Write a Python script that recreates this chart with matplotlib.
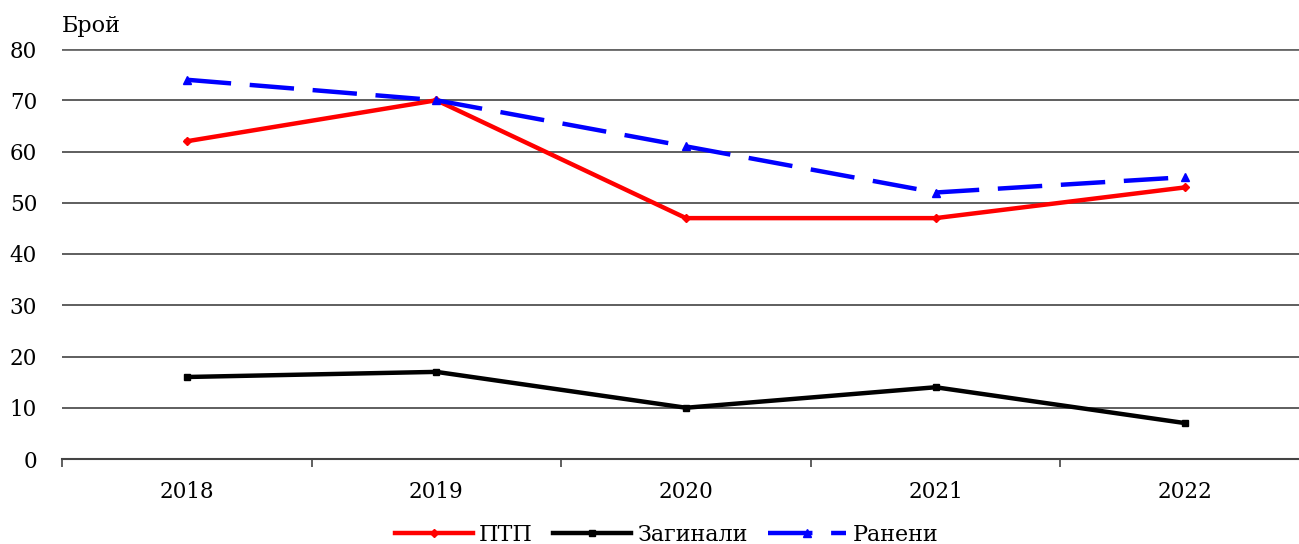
import matplotlib
matplotlib.use("Agg")
import matplotlib.pyplot as plt

years = ["2018", "2019", "2020", "2021", "2022"]
ptp = [62, 70, 47, 47, 53]
zaginali = [16, 17, 10, 14, 7]
raneni = [74, 70, 61, 52, 55]
yticks = [0, 10, 20, 30, 40, 50, 60, 70, 80]

plt.rcParams['font.family'] = ['DejaVu Serif']

fig = plt.figure(figsize=(12.99, 5.44), dpi=100)
ax = fig.add_axes([62/1299, 85/544, 1248/1299, 410/544])

x = list(range(len(years)))
ax.plot(x, ptp, color='#ff0000', lw=3.2, marker='D', ms=4, label='ПТП', zorder=3)
ax.plot(x, zaginali, color='black', lw=3.2, marker='s', ms=5, label='Загинали', zorder=3)
ax.plot(x, raneni, color='#0000ff', lw=3.2, ls=(0, (10, 4.2)), marker='^', ms=6, label='Ранени', zorder=3)

ax.set_xlim(-0.5, 4.5)
ax.set_ylim(0, 80)
ax.set_yticks(yticks)
ax.set_yticklabels([str(v) for v in yticks], fontsize=15.5)
ax.yaxis.grid(True, color='#333333', lw=1.1)
ax.set_axisbelow(True)
ax.get_ygridlines()[-1].set_linewidth(2.0)
ax.get_ygridlines()[-1].set_color('#666666')

ax.set_xticks(x)
ax.set_xticklabels(years, fontsize=15.5)
ax.tick_params(axis='x', which='major', length=0, pad=16)
ax.set_xticks([-0.5, 0.5, 1.5, 2.5, 3.5, 4.5], minor=True)
ax.tick_params(axis='x', which='minor', length=6, width=1.2, color='#444444', direction='out')
ax.tick_params(axis='y', length=0, pad=18)

for s in ['left', 'right', 'top']:
    ax.spines[s].set_visible(False)
ax.spines['bottom'].set_color('#444444')
ax.spines['bottom'].set_linewidth(1.5)

ax.text(0, 1.055, 'Брой', transform=ax.transAxes, fontsize=16, ha='left', va='center')

leg = fig.legend(loc='center', bbox_to_anchor=(0.513, 9/544), ncol=3, frameon=False,
                 fontsize=16, handlelength=3.5, handletextpad=0.3, columnspacing=0.9,
                 borderaxespad=0)

fig.savefig('out.png', dpi=100)
